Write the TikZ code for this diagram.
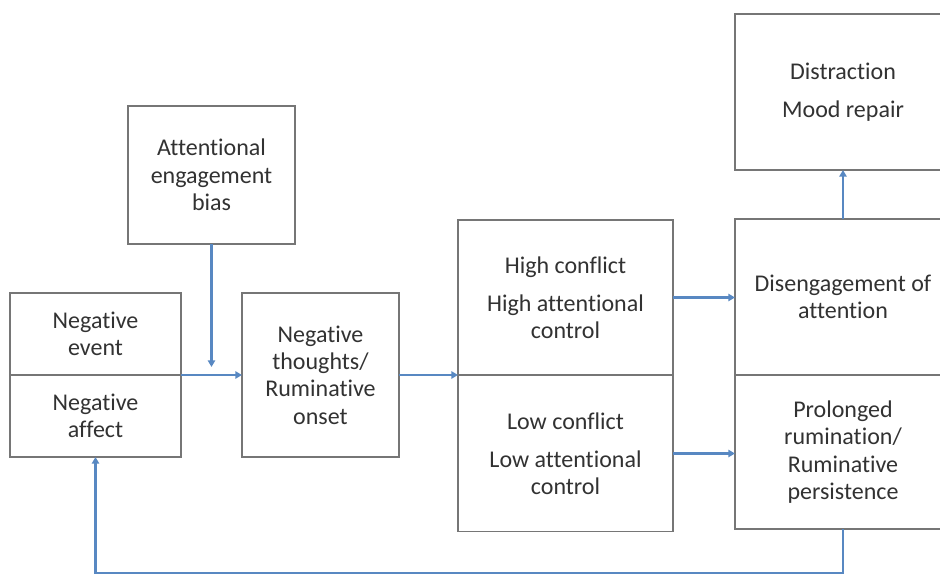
\documentclass[tikz,border=0pt]{standalone}
\usepackage{fontspec}
\setmainfont{Carlito}[Ligatures=NoCommon]
\usetikzlibrary{arrows.meta,positioning}
\definecolor{boxgray}{RGB}{118,118,118}
\definecolor{flowblue}{RGB}{88,136,194}
\definecolor{txtgray}{RGB}{50,50,50}
\tikzset{box/.style={draw=boxgray, line width=0.9pt, fill=white,
    align=center, inner sep=0pt, outer sep=0pt, text=txtgray,
    font=\fontsize{18}{20.5}\selectfont},
  flow/.style={draw=flowblue, line width=1.8pt,
    -{Triangle[length=5pt,width=5.5pt]}}}

\begin{document}
\begin{tikzpicture}[x=0.75pt,y=-0.75pt]
  \useasboundingbox (0,0) rectangle (940,575);
  \clip (0,0) rectangle (940,575);

  % left part
  \node[box, minimum width=125.25pt, minimum height=103.5pt] (attn) at (211.5,175)
    {Attentional\\engagement\\bias};
  \node[box, minimum width=128.25pt, minimum height=61.5pt] (negevent) at (95.5,334)
    {Negative\\event};
  \node[box, minimum width=128.25pt, minimum height=61.5pt] (negaffect) at (95.5,416)
    {Negative\\affect};
  \node[box, minimum width=117.75pt, minimum height=123pt] (negthoughts) at (320.5,375)
    {Negative\\thoughts/\\Ruminative\\onset};

  % conflict
  \node[box, minimum width=161.25pt, minimum height=116.25pt] (highconf) at (565.5,297.5)
    {High conflict\\[8pt]High attentional\\control};
  \node[box, minimum width=161.25pt, minimum height=117pt] (lowconf) at (565.5,453.5)
    {Low conflict\\[8pt]Low attentional\\control};

  % outcomes
  \node[box, minimum width=162pt, minimum height=117pt] (distraction) at (843,92)
    {Distraction\\[8pt]Mood repair};
  \node[box, minimum width=162pt, minimum height=117pt] (diseng) at (843,297)
    {Disengagement of\\attention};
  \node[box, minimum width=162pt, minimum height=115.5pt] (prolonged) at (843,452)
    {Prolonged\\rumination/\\Ruminative\\persistence};

  \coordinate (attnend) at (attn.south |- 0,367);
  \coordinate (loopbase) at (0,573);

  \draw[flow] (attn.south) -- (attnend);
  \draw[flow] (negevent.south east) -- (negthoughts.west);
  \draw[flow] (negthoughts.east) -- (negthoughts.east -| highconf.west);
  \draw[flow] (highconf.east) -- (highconf.east -| diseng.west);
  \draw[flow] (lowconf.east) -- (lowconf.east -| prolonged.west);
  \draw[flow] (diseng.north) -- (distraction.south);

  %% feedback loop
  \draw[flow] (prolonged.south) -- (prolonged.south |- loopbase)
    -| (negaffect.south);
\end{tikzpicture}
\end{document}
